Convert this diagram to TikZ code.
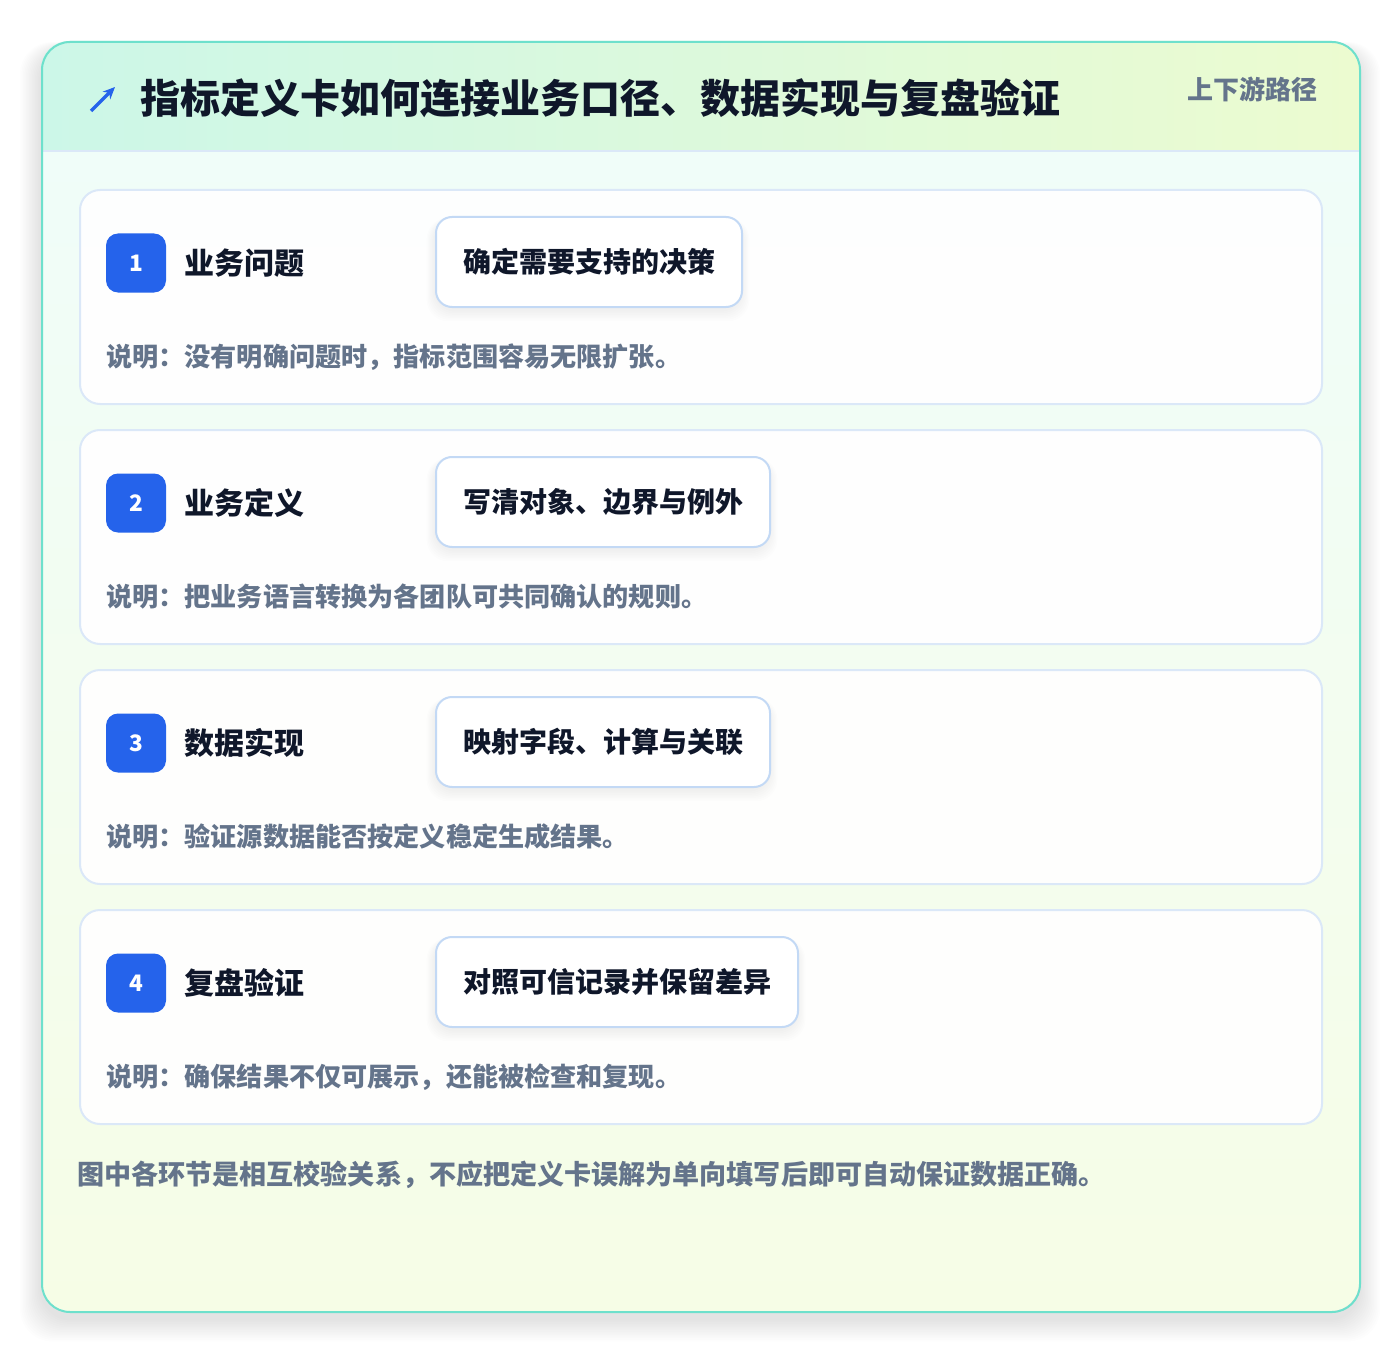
\documentclass[tikz,border=0pt]{standalone}
\usepackage{fontspec}
\setmainfont{Noto Sans CJK SC}
\usetikzlibrary{arrows.meta}
\definecolor{hdrL}{HTML}{CCF7E8}
\definecolor{hdrR}{HTML}{ECFBD0}
\definecolor{bodyT}{HTML}{F0FDF9}
\definecolor{bodyB}{HTML}{F6FDE6}
\definecolor{outerB}{HTML}{6EE0CC}
\definecolor{cardB}{HTML}{DBE8F8}
\definecolor{pillB}{HTML}{C3D9F5}
\definecolor{ink}{HTML}{0F172A}
\definecolor{mute}{HTML}{64748B}
\definecolor{accent}{HTML}{2563EB}
\tikzset{
  card/.style={draw=cardB, line width=1.5pt, fill=white, fill opacity=0.93, draw opacity=1, text opacity=1,
    rounded corners=15pt, minimum width=931.5pt, minimum height=160.5pt, inner sep=0pt},
  badge/.style={fill=accent, rounded corners=9pt, minimum width=45pt, minimum height=44.25pt, inner sep=0pt,
    text=white, font=\bfseries\fontsize{17pt}{19pt}\selectfont},
  stitle/.style={anchor=west, inner sep=0pt, text=ink, font=\bfseries\fontsize{22.5pt}{26pt}\selectfont},
  pill/.style={anchor=west, draw=pillB, line width=1.5pt, fill=white, rounded corners=12pt,
    minimum height=67.5pt, inner xsep=20.25pt, inner ysep=0pt, text=ink,
    font=\bfseries\fontsize{21pt}{24pt}\selectfont},
  desc/.style={anchor=west, inner sep=0pt, text=mute, font=\bfseries\fontsize{19.6pt}{22pt}\selectfont},
}
\begin{document}
\begin{tikzpicture}[x=0.75pt,y=-0.75pt]
\useasboundingbox (0,0) rectangle (1400,1352);
\fill[white] (0,0) rectangle (1400,1352);
% outer soft shadow
\foreach \s in {1,...,14}{
  \fill[black, opacity=0.006, rounded corners=24pt]
    (41-1.5*\s,41-0.5*\s+8) rectangle (1359+1.5*\s,1311+1.6*\s+8);
}
% outer card body
\begin{scope}
  \clip[rounded corners=21pt] (41,41) rectangle (1359,1311);
  \shade[top color=bodyT, bottom color=bodyB] (41,151) rectangle (1359,1311);
  \shade[left color=hdrL, right color=hdrR] (41,41) rectangle (1359,151);
\end{scope}
\draw[cardB, line width=1.2pt] (41,151) -- (1359,151);
\node[draw=outerB, line width=1.5pt, rounded corners=21pt, minimum width=988.5pt, minimum height=952.5pt,
  inner sep=0pt, anchor=north west] (outer) at (41,41) {};
% header
\coordinate (arrS) at (91,111);
\coordinate (arrE) at (115,87);
\draw[accent, line width=2.6pt, -{Stealth[length=9pt,width=8pt]}] (arrS) -- (arrE);
\node[anchor=west, inner sep=0pt, text=ink, font=\bfseries\fontsize{30pt}{34pt}\selectfont] (title) at (140,98)
  {指标定义卡如何连接业务口径、数据实现与复盘验证};
\node[anchor=east, inner sep=0pt, text=mute, font=\bfseries\fontsize{19.5pt}{22pt}\selectfont] (tag) at (1318,89)
  {上下游路径};
% cards
\foreach \i/\w/\t/\p/\d in {
  1/306/业务问题/确定需要支持的决策/说明：没有明确问题时，指标范围容易无限扩张。,
  2/334/业务定义/写清对象、边界与例外/说明：把业务语言转换为各团队可共同确认的规则。,
  3/334/数据实现/映射字段、计算与关联/说明：验证源数据能否按定义稳定生成结果。,
  4/362/复盘验证/对照可信记录并保留差异/说明：确保结果不仅可展示，还能被检查和复现。}{
  \pgfmathsetmacro{\top}{189+240*(\i-1)}
  \node[card, anchor=north west] (c\i) at (79,\top) {};
  \node[badge] (b\i) at (136,\top+74) {\i};
  \node[stitle] (t\i) at (184,\top+74) {\t};
  \foreach \k in {1,...,7}{
    \fill[black, opacity=0.009, rounded corners=16pt]
      (435-\k*1.2,\top+28+3-\k*0.3) rectangle (435+\w+\k*1.2,\top+118+3+\k*1.6);
  }
  \node[pill] (p\i) at (435,\top+73) {\p};
  \node[desc] (d\i) at (106,\top+168) {\d};
}
\node[anchor=west, inner sep=0pt, text=mute, font=\bfseries\fontsize{20.3pt}{24pt}\selectfont] (foot) at (77,1175)
  {图中各环节是相互校验关系，不应把定义卡误解为单向填写后即可自动保证数据正确。};
\end{tikzpicture}
\end{document}
